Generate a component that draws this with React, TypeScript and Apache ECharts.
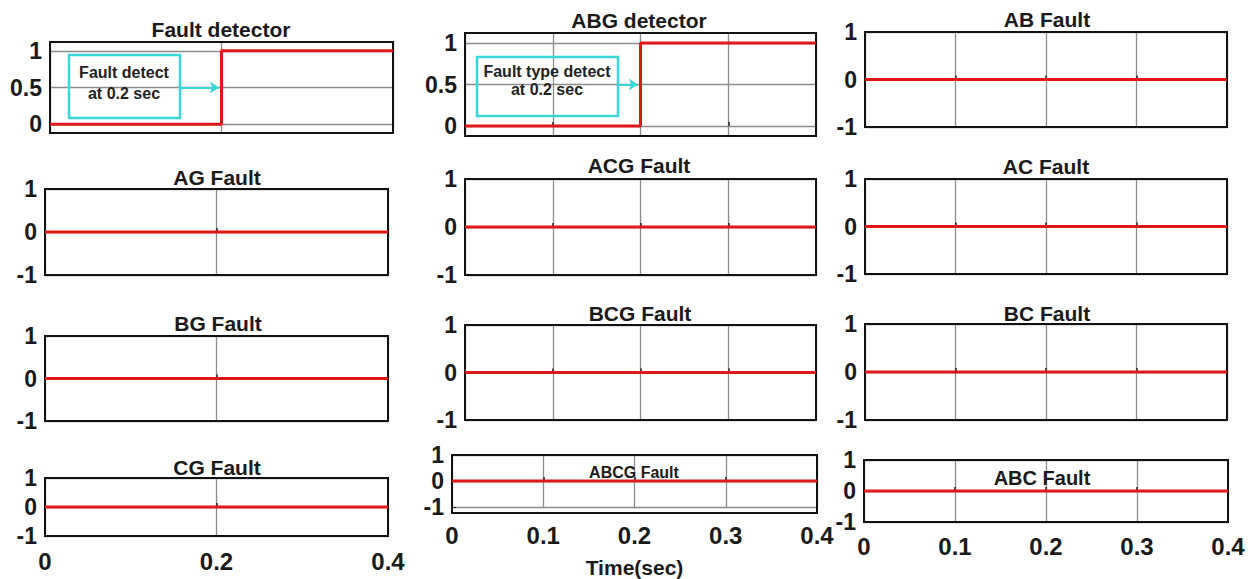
import React, { useEffect, useRef } from "react";
import * as echarts from "echarts";

// ---------- data ----------
const panelTitles = [
  "Fault detector", "ABG detector", "AB Fault",
  "AG Fault", "ACG Fault", "AC Fault",
  "BG Fault", "BCG Fault", "BC Fault",
  "CG Fault", "ABCG Fault", "ABC Fault",
];
const timeSec = [0, 0.2, 0.4];
const faultDetectorSignal = [0, 1, 1];
const abgDetectorSignal = [0, 1, 1];
const abSignal = [0, 0, 0];
const agSignal = [0, 0, 0];
const acgSignal = [0, 0, 0];
const acSignal = [0, 0, 0];
const bgSignal = [0, 0, 0];
const bcgSignal = [0, 0, 0];
const bcSignal = [0, 0, 0];
const cgSignal = [0, 0, 0];
const abcgSignal = [0, 0, 0];
const abcSignal = [0, 0, 0];
const signals = [
  faultDetectorSignal, abgDetectorSignal, abSignal,
  agSignal, acgSignal, acSignal,
  bgSignal, bcgSignal, bcSignal,
  cgSignal, abcgSignal, abcSignal,
];
const detectorYTicks = [0, 0.5, 1];
const annotationTexts = [
  ["Fault detect", "at 0.2 sec"],
  ["Fault type detect", "at 0.2 sec"],
];
const detectTime = 0.2;
const xAxisName = "Time(sec)";

// ---------- layout (pixels) ----------
// [left, top, right, bottom]
const boxes = [
  [50, 42, 393, 133], [465, 33, 816, 136], [865, 32, 1227, 127],
  [45, 189, 388, 275], [465, 179, 816, 275], [865, 179, 1227, 274],
  [45, 336, 388, 421], [465, 325, 816, 420], [865, 324, 1227, 420],
  [45, 478, 388, 536], [452, 455, 817, 513], [864, 460, 1228, 522],
];
// title center [x, y, fontSize]
const titlePos = [
  [221, 29, 21], [639, 20, 21], [1047, 19, 21],
  [217, 177, 21], [639, 165, 21], [1046, 166, 21],
  [218, 323, 21], [640, 313, 21], [1047, 313, 21],
  [217, 467, 21], [634, 472, 16], [1042, 478, 20],
];
const xLabelMargin = [13, 16, 12];
// annotation boxes: [x, y, w, h, textCenterX, line1Y, line2Y, arrowStartX(data)]
const annoBoxes = [
  [69, 55, 111, 63, 124, 72, 93, 0.152],
  [477, 57, 141, 59, 547, 71, 89, 0.174],
];

const FONT = "'Liberation Sans', Arial, sans-serif";
const RED = "#e01818";
const CYAN = "#3ad6d8";
const GRID = "#8c8c8c";
const INK = "#1a1a1a";

export default function App() {
  const ref = useRef<HTMLDivElement>(null);

  useEffect(() => {
    if (!ref.current) return;
    const chart = echarts.init(ref.current, undefined, { renderer: "svg" });

    const grids: any[] = [];
    const xAxes: any[] = [];
    const yAxes: any[] = [];
    const series: any[] = [];
    const graphics: any[] = [];

    panelTitles.forEach((title, i) => {
      const [l, t, r, b] = boxes[i];
      const col = i % 3;
      const row = Math.floor(i / 3);
      const isDetector = i < 2;
      grids.push({
        left: l, top: t, width: r - l, height: b - t,
        show: true, borderColor: "#111", borderWidth: 0,
        backgroundColor: "#fff", containLabel: false,
      });
      xAxes.push({
        gridIndex: i, type: "value", min: 0, max: 0.4,
        interval: col === 0 ? 0.2 : 0.1,
        axisLine: { show: false },
        axisTick: { show: true, inside: true, length: 4, lineStyle: { color: "#222", width: 1.5 } },
        splitLine: { show: true, lineStyle: { color: GRID, width: 1.3 } },
        axisLabel: {
          show: row === 3, fontSize: 24, fontWeight: "bold", color: INK,
          fontFamily: FONT, margin: xLabelMargin[col],
          showMinLabel: true, showMaxLabel: true,
        },
        ...(i === 10
          ? {
              name: xAxisName, nameLocation: "middle", nameGap: 50,
              nameTextStyle: { fontSize: 21, fontWeight: "bold", color: INK, fontFamily: FONT },
            }
          : {}),
      });
      if (isDetector) {
        yAxes.push({
          gridIndex: i, type: "value", min: -0.12, max: 1.12,
          axisLine: { show: false },
          axisTick: { show: true, inside: true, length: 4, customValues: detectorYTicks, lineStyle: { color: "#222" } },
          splitLine: { show: false },
          axisLabel: {
            fontSize: 23, fontWeight: "bold", color: INK, fontFamily: FONT, margin: 8,
            customValues: detectorYTicks,
          },
        });
        series.push({
          type: "line", xAxisIndex: i, yAxisIndex: i, data: [], silent: true, z: 1,
          markLine: {
            silent: true, z: 1, symbol: ["none", "none"], label: { show: false },
            lineStyle: { color: GRID, width: 1.3, type: "solid" },
            data: detectorYTicks.map((v) => ({ yAxis: v })),
          },
        });
      } else {
        yAxes.push({
          gridIndex: i, type: "value", min: -1, max: 1, interval: 1,
          axisLine: { show: false },
          axisTick: { show: true, inside: true, length: 4, lineStyle: { color: "#222" } },
          splitLine: { show: true, lineStyle: { color: GRID, width: 1.3 } },
          axisLabel: { fontSize: 23, fontWeight: "bold", color: INK, fontFamily: FONT, margin: 8 },
        });
      }
      const s: any = {
        type: "line", xAxisIndex: i, yAxisIndex: i, z: 3,
        data: timeSec.map((tv, k) => [tv, signals[i][k]]),
        step: isDetector ? "end" : false,
        symbol: "none", showSymbol: false, silent: true,
        lineStyle: { color: RED, width: 3 },
      };
      if (isDetector) {
        const a = annoBoxes[i];
        s.markLine = {
          silent: true, z: 6, label: { show: false },
          symbol: ["none", "arrow"], symbolSize: 9,
          lineStyle: { color: CYAN, width: 2, type: "solid" },
          data: [[{ coord: [a[7], 0.5] }, { coord: [detectTime - 0.003, 0.5] }]],
        };
        graphics.push({
          type: "rect", shape: { x: a[0], y: a[1], width: a[2], height: a[3] },
          style: { fill: "transparent", stroke: CYAN, lineWidth: 2.5 }, z: 10,
        });
        annotationTexts[i].forEach((txt, k) => {
          graphics.push({
            type: "text", x: a[4], y: k === 0 ? a[5] : a[6], z: 11,
            style: {
              text: txt, align: "center", verticalAlign: "middle",
              font: `bold 16px ${FONT}`, fill: "#222",
            },
          });
        });
      }
      series.push(s);
      // black frame drawn on top of grid lines
      graphics.push({
        type: "rect", shape: { x: l, y: t, width: r - l, height: b - t }, z: 2,
        silent: true,
        style: { fill: "transparent", stroke: "#111", lineWidth: 2 },
      });
      const [tx, ty, fs] = titlePos[i];
      graphics.push({
        type: "text", x: tx, y: ty, z: 12,
        style: {
          text: title, align: "center", verticalAlign: "middle",
          font: `bold ${fs}px ${FONT}`, fill: INK,
        },
      });
    });

    chart.setOption({
      animation: false,
      backgroundColor: "#fff",
      grid: grids,
      xAxis: xAxes,
      yAxis: yAxes,
      series,
      graphic: graphics,
    });

    return () => chart.dispose();
  }, []);

  return (
    <div
      ref={ref}
      style={{ position: "fixed", left: 0, top: 0, width: 1259, height: 579, background: "#fff" }}
    />
  );
}
